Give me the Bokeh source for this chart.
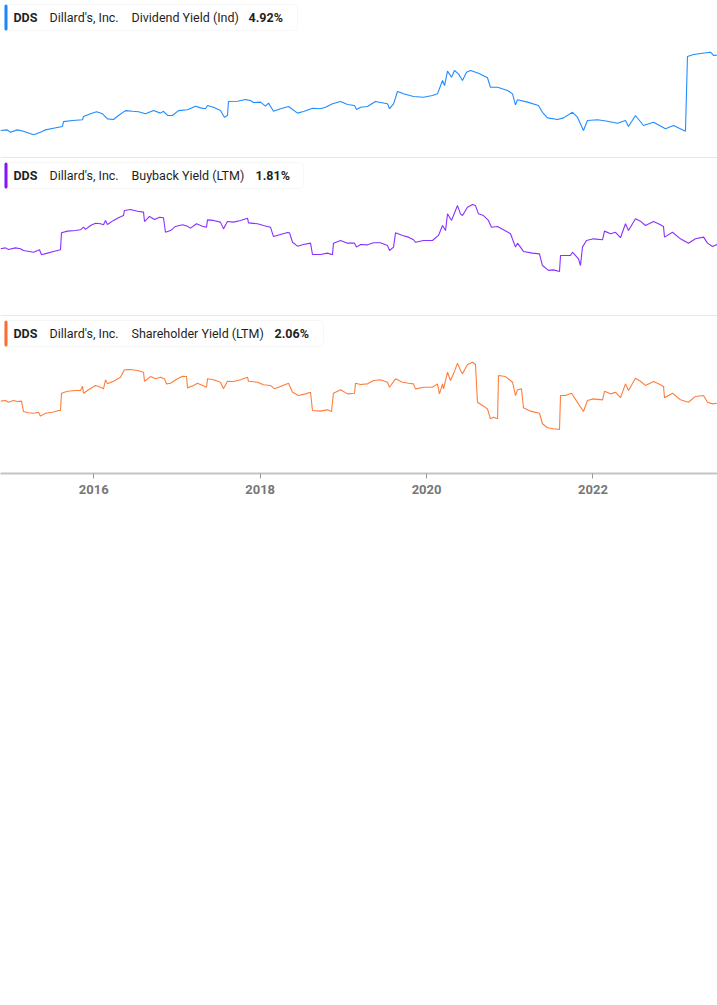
from bokeh.plotting import figure
from bokeh.layouts import column
from bokeh.models import ColumnDataSource, Range1d, FixedTicker, BoxAnnotation, Label
from bokeh.embed import file_html
from bokeh.resources import INLINE

# ---------------- data (decimal years, percent) ----------------
div_years = [2014.879, 2014.960, 2014.999, 2015.080, 2015.155, 2015.276, 2015.360, 2015.420, 2015.516, 2015.624,
             2015.636, 2015.744, 2015.865, 2015.877, 2015.961, 2016.033, 2016.105, 2016.165, 2016.237, 2016.297,
             2016.381, 2016.466, 2016.538, 2016.622, 2016.718, 2016.802, 2016.838, 2016.886, 2016.946, 2017.018,
             2017.127, 2017.223, 2017.283, 2017.343, 2017.367, 2017.439, 2017.523, 2017.571, 2017.607, 2017.619,
             2017.728, 2017.824, 2017.884, 2017.920, 2018.004, 2018.064, 2018.100, 2018.160, 2018.244, 2018.341,
             2018.449, 2018.521, 2018.629, 2018.725, 2018.785, 2018.869, 2018.966, 2019.050, 2019.134, 2019.158,
             2019.206, 2019.290, 2019.386, 2019.530, 2019.555, 2019.603, 2019.651, 2019.723, 2019.843, 2019.963,
             2020.071, 2020.131, 2020.192, 2020.216, 2020.252, 2020.300, 2020.336, 2020.384, 2020.432, 2020.480,
             2020.528, 2020.624, 2020.732, 2020.768, 2020.853, 2020.973, 2021.033, 2021.069, 2021.093, 2021.213,
             2021.345, 2021.393, 2021.454, 2021.574, 2021.646, 2021.754, 2021.814, 2021.886, 2021.934, 2022.055,
             2022.175, 2022.295, 2022.391, 2022.427, 2022.511, 2022.607, 2022.728, 2022.872, 2022.968, 2023.112,
             2023.136, 2023.208, 2023.317, 2023.413, 2023.449, 2023.497]
div_values = [0.47, 0.51, 0.37, 0.51, 0.43, 0.22, 0.37, 0.51, 0.61, 0.71,
              1.00, 1.06, 1.11, 1.30, 1.46, 1.58, 1.46, 1.16, 1.12, 1.36,
              1.65, 1.61, 1.58, 1.46, 1.65, 1.50, 1.61, 1.36, 1.36, 1.65,
              1.70, 1.91, 1.81, 1.76, 1.95, 1.85, 1.65, 1.26, 1.36, 2.19,
              2.20, 2.30, 2.25, 2.13, 2.15, 1.91, 2.09, 1.61, 1.76, 1.89,
              1.50, 1.60, 1.79, 1.76, 1.85, 2.05, 2.19, 2.01, 1.95, 1.71,
              1.85, 1.89, 2.19, 2.05, 1.76, 2.05, 2.78, 2.64, 2.48, 2.44,
              2.54, 2.64, 3.43, 3.13, 3.98, 3.62, 4.02, 3.82, 3.43, 3.92,
              4.02, 3.86, 3.59, 3.03, 3.03, 2.84, 2.64, 1.99, 2.29, 2.15,
              1.95, 1.55, 1.22, 1.12, 1.22, 1.55, 1.26, 0.47, 1.06, 1.11,
              1.02, 0.90, 1.06, 0.71, 1.36, 0.77, 0.96, 0.57, 0.77, 0.43,
              4.85, 4.96, 5.04, 5.10, 4.91, 4.92]

buy_years = [2014.879, 2014.939, 2014.975, 2015.059, 2015.119, 2015.155, 2015.276, 2015.348, 2015.372, 2015.444,
             2015.516, 2015.600, 2015.612, 2015.684, 2015.780, 2015.841, 2015.877, 2015.901, 2015.961, 2016.021,
             2016.081, 2016.117, 2016.141, 2016.165, 2016.237, 2016.297, 2016.357, 2016.369, 2016.442, 2016.526,
             2016.598, 2016.610, 2016.670, 2016.730, 2016.790, 2016.838, 2016.862, 2016.922, 2016.982, 2017.067,
             2017.127, 2017.163, 2017.235, 2017.307, 2017.355, 2017.367, 2017.439, 2017.523, 2017.559, 2017.607,
             2017.680, 2017.764, 2017.848, 2017.860, 2017.968, 2018.040, 2018.124, 2018.160, 2018.244, 2018.329,
             2018.353, 2018.389, 2018.449, 2018.521, 2018.605, 2018.629, 2018.725, 2018.809, 2018.869, 2018.881,
             2018.966, 2019.050, 2019.134, 2019.158, 2019.206, 2019.290, 2019.362, 2019.446, 2019.530, 2019.555,
             2019.603, 2019.627, 2019.711, 2019.783, 2019.843, 2019.867, 2019.963, 2020.071, 2020.143, 2020.192,
             2020.228, 2020.252, 2020.300, 2020.324, 2020.372, 2020.408, 2020.432, 2020.492, 2020.552, 2020.588,
             2020.624, 2020.684, 2020.744, 2020.780, 2020.853, 2020.925, 2021.009, 2021.069, 2021.093, 2021.165,
             2021.273, 2021.357, 2021.393, 2021.466, 2021.526, 2021.598, 2021.610, 2021.670, 2021.730, 2021.754,
             2021.826, 2021.850, 2021.874, 2021.922, 2022.006, 2022.115, 2022.139, 2022.211, 2022.271, 2022.331,
             2022.391, 2022.427, 2022.511, 2022.571, 2022.631, 2022.728, 2022.812, 2022.848, 2022.860, 2022.956,
             2023.052, 2023.148, 2023.232, 2023.329, 2023.377, 2023.437, 2023.497]
buy_values = [1.58, 1.63, 1.54, 1.63, 1.58, 1.49, 1.40, 1.53, 1.26, 1.35,
              1.44, 1.53, 2.43, 2.52, 2.55, 2.59, 2.73, 2.61, 2.82, 2.94,
              2.91, 2.86, 3.09, 2.87, 3.09, 3.23, 3.35, 3.62, 3.67, 3.58,
              3.53, 3.03, 3.30, 3.14, 3.26, 3.23, 2.46, 2.55, 2.77, 2.86,
              2.78, 2.68, 2.91, 2.78, 2.73, 3.12, 3.09, 3.00, 2.64, 3.03,
              3.00, 3.09, 3.21, 2.96, 2.91, 2.82, 2.73, 2.23, 2.34, 2.45,
              2.43, 1.93, 1.72, 1.81, 1.88, 1.28, 1.28, 1.35, 1.26, 1.88,
              2.02, 1.88, 1.88, 1.67, 1.81, 1.79, 1.90, 1.90, 1.76, 1.49,
              1.67, 2.43, 2.29, 2.20, 2.06, 1.93, 2.02, 2.02, 2.29, 2.82,
              2.55, 3.44, 3.09, 3.35, 3.88, 3.44, 3.35, 3.79, 3.94, 3.88,
              3.44, 3.35, 3.09, 2.73, 2.77, 2.59, 2.38, 1.67, 1.88, 1.44,
              1.35, 1.31, 0.69, 0.43, 0.46, 0.37, 1.22, 1.22, 1.22, 1.40,
              1.05, 0.69, 1.67, 2.02, 2.11, 2.06, 2.52, 2.38, 2.46, 2.17,
              2.91, 2.55, 3.18, 3.05, 2.82, 3.03, 2.86, 2.77, 2.20, 2.46,
              2.11, 1.88, 2.11, 2.20, 1.88, 1.70, 1.81]

sh_years = [2014.879, 2014.939, 2014.975, 2015.035, 2015.083, 2015.131, 2015.155, 2015.216, 2015.276, 2015.336,
            2015.360, 2015.420, 2015.504, 2015.576, 2015.600, 2015.612, 2015.684, 2015.780, 2015.841, 2015.865,
            2015.877, 2015.937, 2016.021, 2016.081, 2016.117, 2016.141, 2016.165, 2016.237, 2016.321, 2016.369,
            2016.442, 2016.526, 2016.598, 2016.610, 2016.682, 2016.742, 2016.802, 2016.850, 2016.874, 2016.922,
            2017.006, 2017.067, 2017.115, 2017.127, 2017.199, 2017.247, 2017.307, 2017.355, 2017.367, 2017.439,
            2017.523, 2017.559, 2017.607, 2017.680, 2017.764, 2017.848, 2017.860, 2017.968, 2018.040, 2018.124,
            2018.172, 2018.244, 2018.341, 2018.389, 2018.461, 2018.545, 2018.605, 2018.629, 2018.725, 2018.809,
            2018.857, 2018.881, 2018.966, 2019.050, 2019.134, 2019.146, 2019.206, 2019.290, 2019.362, 2019.446,
            2019.530, 2019.555, 2019.627, 2019.711, 2019.783, 2019.843, 2019.867, 2019.963, 2020.071, 2020.131,
            2020.155, 2020.192, 2020.204, 2020.252, 2020.288, 2020.324, 2020.372, 2020.408, 2020.432, 2020.492,
            2020.552, 2020.588, 2020.612, 2020.672, 2020.732, 2020.768, 2020.805, 2020.853, 2020.865, 2020.949,
            2021.033, 2021.069, 2021.093, 2021.141, 2021.165, 2021.249, 2021.357, 2021.393, 2021.454, 2021.526,
            2021.598, 2021.610, 2021.670, 2021.742, 2021.826, 2021.886, 2021.934, 2022.006, 2022.115, 2022.139,
            2022.211, 2022.271, 2022.331, 2022.391, 2022.427, 2022.511, 2022.571, 2022.631, 2022.728, 2022.812,
            2022.848, 2022.860, 2022.956, 2023.052, 2023.148, 2023.232, 2023.329, 2023.377, 2023.437, 2023.497]
sh_values = [2.19, 2.23, 2.12, 2.23, 2.17, 2.19, 1.55, 1.47, 1.44, 1.50,
             1.26, 1.44, 1.50, 1.61, 1.61, 2.68, 2.80, 2.85, 2.85, 3.11,
             2.68, 2.89, 3.16, 3.05, 2.95, 3.51, 3.26, 3.42, 3.67, 4.13,
             4.15, 4.09, 3.98, 3.42, 3.71, 3.57, 3.67, 3.57, 3.26, 3.30,
             3.57, 3.73, 3.71, 3.01, 3.16, 3.30, 3.16, 3.05, 3.57, 3.51,
             3.36, 2.95, 3.42, 3.40, 3.51, 3.67, 3.42, 3.36, 3.20, 3.16,
             2.95, 3.10, 3.30, 2.74, 2.54, 2.64, 2.74, 1.61, 1.57, 1.65,
             1.55, 2.68, 2.89, 2.64, 2.68, 3.30, 3.22, 3.26, 3.47, 3.51,
             3.36, 3.05, 3.57, 3.36, 3.30, 3.26, 2.95, 3.05, 3.05, 3.26,
             2.64, 3.26, 2.95, 3.98, 3.47, 3.88, 4.54, 4.09, 3.88, 4.46,
             4.60, 4.46, 2.12, 1.92, 1.71, 1.10, 1.19, 1.10, 3.78, 3.71,
             3.36, 2.54, 2.89, 2.95, 1.78, 1.57, 1.44, 0.79, 0.54, 0.48,
             0.43, 2.54, 2.54, 2.68, 2.02, 1.55, 2.23, 2.33, 2.27, 2.80,
             2.64, 2.74, 2.40, 3.26, 2.85, 3.61, 3.42, 3.16, 3.40, 3.20,
             3.10, 2.40, 2.68, 2.27, 2.12, 2.48, 2.54, 2.12, 2.02, 2.06]

tick_years = [2016, 2018, 2020, 2022]

panels = [
    dict(name="Dividend Yield (Ind)", last="4.92%", years=div_years, values=div_values,
         line="#1f8cff", bar="#1a86ff", yr=(-1.182, 8.156), box_right=297, val_x=248),
    dict(name="Buyback Yield (LTM)", last="1.81%", years=buy_years, values=buy_values,
         line="#8a30ff", bar="#8414ff", yr=(-2.022, 6.384), box_right=303, val_x=255),
    dict(name="Shareholder Yield (LTM)", last="2.06%", years=sh_years, values=sh_values,
         line="#ff7d3b", bar="#ff6c2c", yr=(-2.290, 7.428), box_right=323, val_x=274),
]

x_range = Range1d(2014.879, 2023.497)
FONT = "Roboto"
figs = []
for i, pn in enumerate(panels):
    last = i == len(panels) - 1
    fh = 158 if not last else 157
    p = figure(frame_width=717, frame_height=fh, x_range=x_range,
               y_range=Range1d(*pn["yr"]), output_backend="svg",
               toolbar_location=None, y_axis_location=None,
               x_axis_location=("below" if last else None),
               min_border=0, min_border_bottom=(12 if last else 0))
    p.grid.visible = False
    p.outline_line_color = None
    p.background_fill_color = "white"
    p.border_fill_color = "white"
    if last:
        ax = p.xaxis[0]
        ax.ticker = FixedTicker(ticks=tick_years)
        ax.axis_line_color = "#c4c4c4"
        ax.axis_line_width = 2
        ax.major_tick_line_color = "#9a9a9a"
        ax.major_tick_out = 5
        ax.major_tick_in = 0
        ax.minor_tick_line_color = None
        ax.major_label_text_font = FONT
        ax.major_label_text_font_style = "bold"
        ax.major_label_text_font_size = "13px"
        ax.major_label_text_color = "#777777"
        ax.major_label_standoff = 6
    else:
        # thin separator at the bottom of the panel
        p.add_layout(BoxAnnotation(left=0, right=717, bottom=0, top=1,
                                   left_units="screen", right_units="screen",
                                   top_units="screen", bottom_units="screen",
                                   fill_color="#cfcfcf", fill_alpha=1.0, line_color=None))

    src = ColumnDataSource(dict(year=pn["years"], value=pn["values"]))
    p.line(x="year", y="value", source=src, line_color=pn["line"], line_width=1.1)

    # legend box (screen units measured from frame bottom)
    top, bot = fh - 4, fh - 30
    p.add_layout(BoxAnnotation(left=4, right=pn["box_right"], top=top, bottom=bot,
                               left_units="screen", right_units="screen",
                               top_units="screen", bottom_units="screen",
                               fill_color="white", fill_alpha=1.0,
                               line_color="#e3e3e3", line_width=1, border_radius=4))
    p.add_layout(BoxAnnotation(left=4, right=7, top=top, bottom=bot,
                               left_units="screen", right_units="screen",
                               top_units="screen", bottom_units="screen",
                               fill_color=pn["bar"], fill_alpha=1.0,
                               line_color=None, border_radius=2))
    ymid = fh - 17
    for txt, x, style in [("DDS", 13, "bold"), ("Dillard's, Inc.", 49, "normal"),
                          (pn["name"], 131, "normal"), (pn["last"], pn["val_x"], "bold")]:
        p.add_layout(Label(x=x, y=ymid, x_units="screen", y_units="screen", text=txt,
                           text_font=FONT, text_font_size="12.5px", text_font_style=style,
                           text_color="#1f1f1f", text_baseline="middle", text_align="left"))
    figs.append(p)

layout = column(*figs, spacing=0, margin=0)
open("out.html", "w").write(file_html(layout, INLINE))
